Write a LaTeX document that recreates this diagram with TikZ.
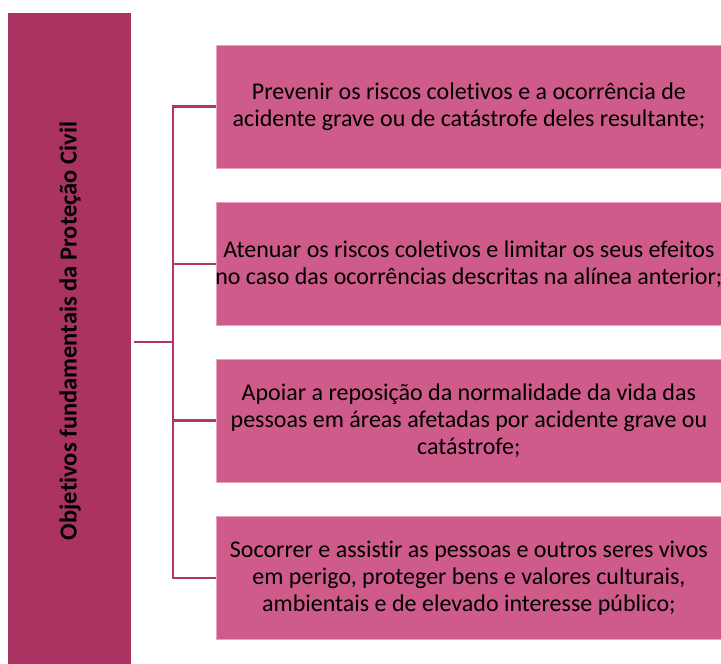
\documentclass[tikz,border=0pt]{standalone}
\usepackage{fontspec}
\setmainfont{Carlito}[Ligatures=NoCommon]
\begin{document}
\begin{tikzpicture}[x=1pt,y=-1pt,
  bar/.style={fill=barc,draw=none,inner sep=0pt},
  itembox/.style={fill=boxc,draw=boxline,line width=0.8pt,minimum width=505pt,minimum height=123pt,inner sep=0pt},
  itemtext/.style={inner sep=0pt,align=center,font=\fontsize{24}{27}\selectfont},
  conn/.style={draw=linec,line width=2.2pt}]
\definecolor{barc}{HTML}{AA3362}
\definecolor{boxc}{HTML}{CE5B8A}
\definecolor{boxline}{HTML}{E6A3C0}
\definecolor{linec}{HTML}{B0356A}
\useasboundingbox (0,0) rectangle (721,664);
\node[bar,minimum width=123pt,minimum height=651pt,anchor=north west] (main) at (8,13) {};
\node[rotate=90,font=\fontsize{24.5}{28}\bfseries\selectfont] (mainlabel) at (70,331) {Objetivos fundamentais da Proteção Civil};
\node[itembox,anchor=west] (b1) at (216,106.5) {};
\node[itembox,anchor=west] (b2) at (216,264) {};
\node[itembox,anchor=west] (b3) at (216,420.5) {};
\node[itembox,anchor=west] (b4) at (216,578) {};
\node[itemtext] (t1) at (b1.center) {Prevenir os riscos coletivos e a ocorrência de\\acidente grave ou de catástrofe deles resultante;};
\node[itemtext] (t2) at (b2.center) {Atenuar os riscos coletivos e limitar os seus efeitos\\no caso das ocorrências descritas na alínea anterior;};
\node[itemtext] (t3) at (b3.center) {Apoiar a reposição da normalidade da vida das\\pessoas em áreas afetadas por acidente grave ou\\catástrofe;};
\node[itemtext] (t4) at (b4.center) {Socorrer e assistir as pessoas e outros seres vivos\\em perigo, proteger bens e valores culturais,\\ambientais e de elevado interesse público;};
\coordinate (jx) at (173,342);
\draw[conn] (main.east |- jx) ++(3,0) -- (jx);
\draw[conn] (b1.west) -- (b1.west -| jx) -- (b4.west -| jx) -- (b4.west);
\draw[conn] (b2.west -| jx) -- (b2.west);
\draw[conn] (b3.west -| jx) -- (b3.west);
\end{tikzpicture}
\end{document}
